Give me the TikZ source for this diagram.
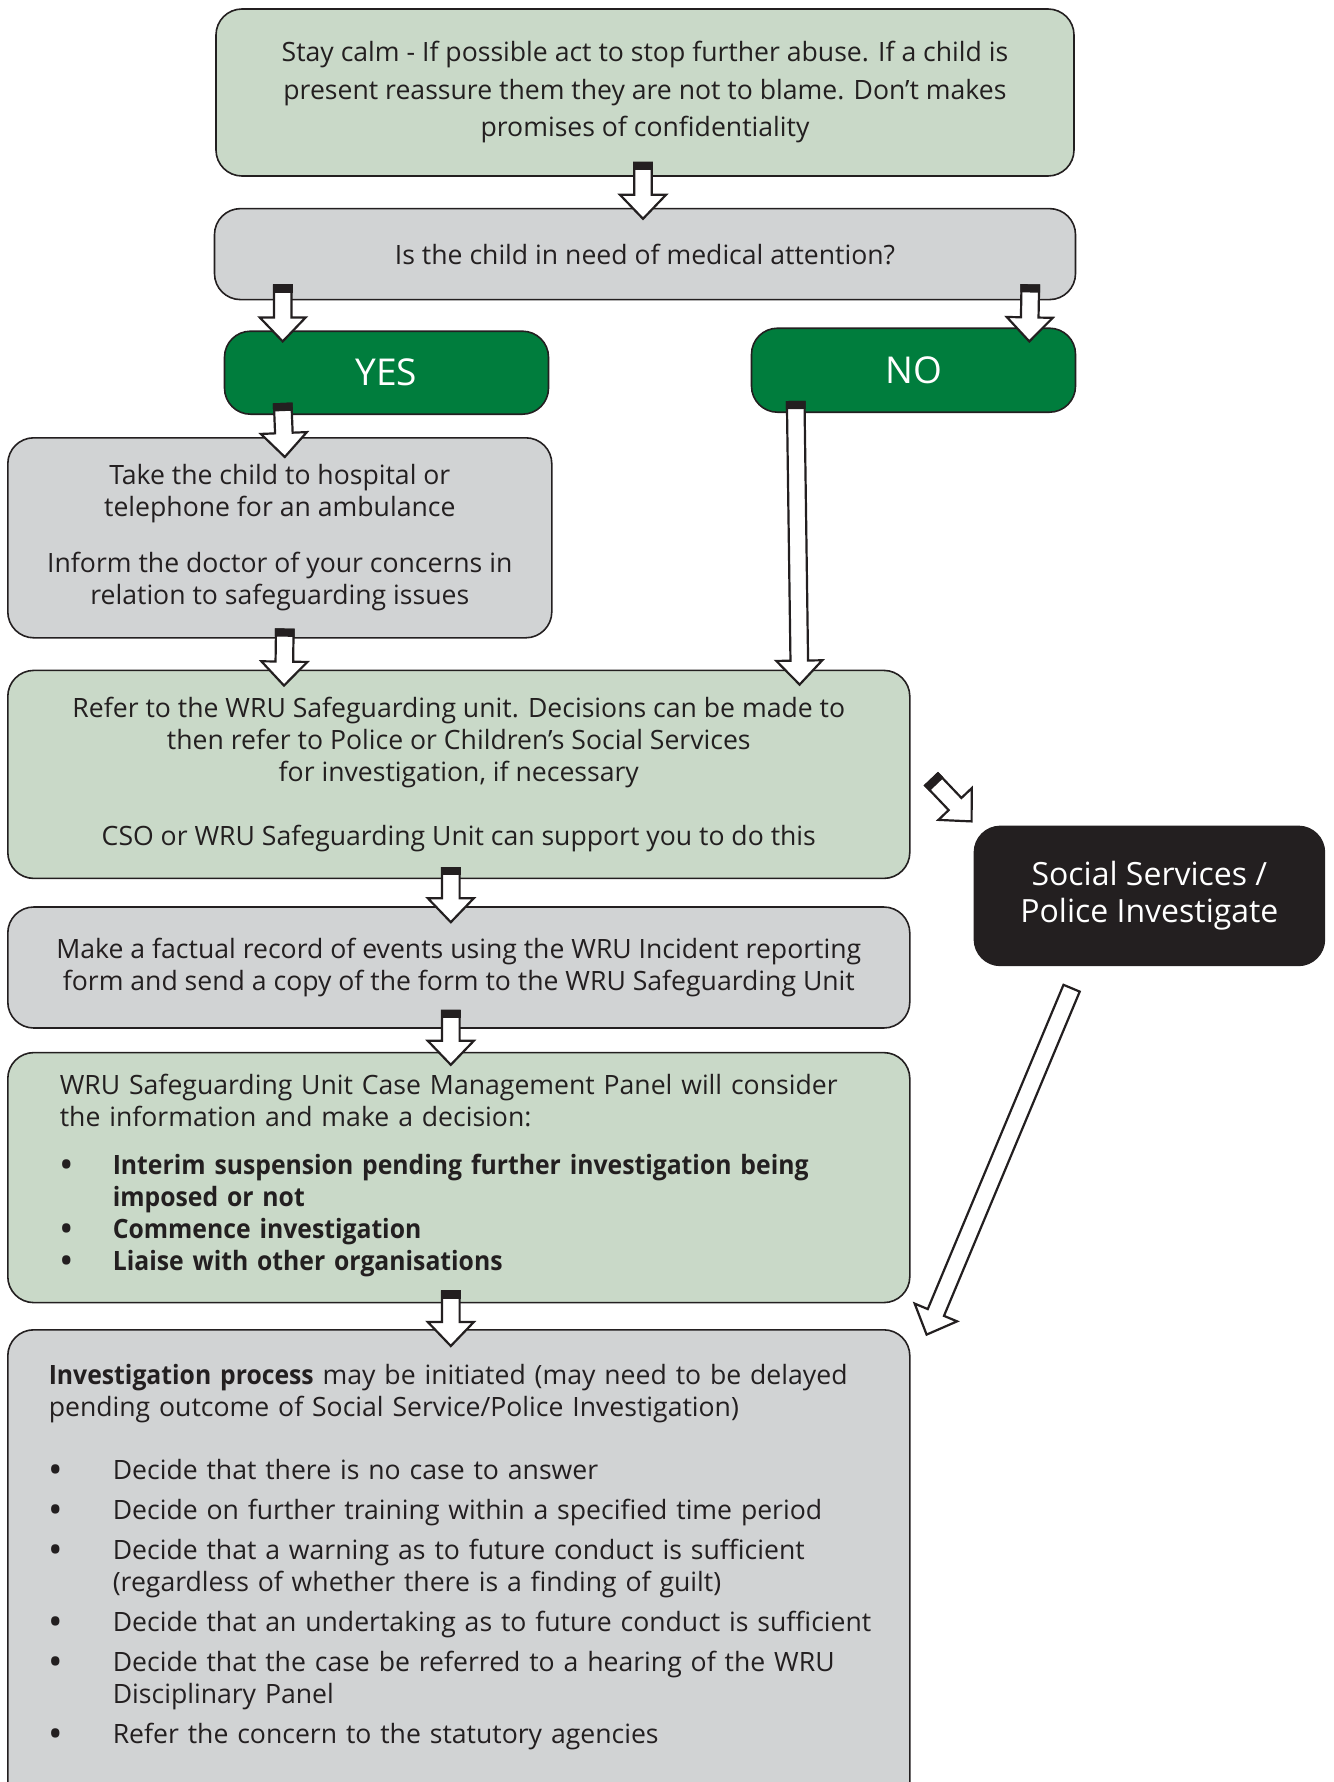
\documentclass[tikz,border=0pt]{standalone}
\usepackage{fontspec}
\setmainfont[BoldFeatures={FakeStretch=0.93}]{Open Sans}
\usetikzlibrary{positioning, calc}
\definecolor{ink}{RGB}{35,31,32}
\definecolor{sage}{RGB}{201,217,200}
\definecolor{cloud}{RGB}{209,211,212}
\definecolor{pitch}{RGB}{0,125,61}
\newcommand{\dotitem}[1][32pt]{\makebox[#1][l]{\raisebox{-2pt}{\smash{\scalebox{1.45}{\textbullet}}}}}
\tikzstyle{box}=[draw=ink, line width=0.8pt, rounded corners=13pt, text=ink, inner sep=0pt, align=center]
\tikzstyle{greenbox}=[box, fill=sage]
\tikzstyle{greybox}=[box, fill=cloud]
\tikzstyle{answer}=[box, fill=pitch, text=white, minimum width=162pt, font=\fontsize{18.5}{22}\selectfont]
\tikzstyle{every node}=[font=\fontsize{13.3}{16}\selectfont]
\tikzstyle{hollow}=[draw=ink, fill=white, line width=1.1pt, line join=miter,
  to path={let \p1=(\tikztostart), \p2=(\tikztotarget), \p3=($(\p2)!12pt!(\p1)$) in
    ($(\p1)!4.4pt!90:(\p2)$) -- ($(\p3)!4.4pt!90:(\p2)$) -- ($(\p3)!11.5pt!90:(\p2)$) -- (\p2)
    -- ($(\p3)!11.5pt!-90:(\p2)$) -- ($(\p3)!4.4pt!-90:(\p2)$) -- ($(\p1)!4.4pt!-90:(\p2)$) -- cycle}]
\tikzstyle{tail}=[draw=ink, fill=ink, line width=1.1pt,
  to path={let \p1=(\tikztostart), \p2=(\tikztotarget), \p3=($(\p1)!3pt!(\p2)$) in
    ($(\p1)!4.4pt!90:(\p2)$) -- ($(\p3)!4.4pt!90:(\p2)$) -- ($(\p3)!4.4pt!-90:(\p2)$)
    -- ($(\p1)!4.4pt!-90:(\p2)$) -- cycle}]

\begin{document}
\begin{tikzpicture}[node distance=15pt]
    \useasboundingbox (0,0) rectangle (666.5pt,-891pt);

    \node[greenbox, minimum width=429pt, minimum height=83.5pt, font=\fontsize{13.3}{18.75}\selectfont] (calm) at (322.5pt,-46.25pt)
        {Stay calm - If possible act to stop further abuse. If a child is\\
         present reassure them they are not to blame. Don’t makes\\
         promises of confidentiality};
    \node[greybox, minimum width=430.5pt, minimum height=45.5pt, below=15.5pt of calm] (medical)
        {Is the child in need of medical attention?};
    \node[answer, minimum height=41.5pt, below=15pt of medical.south west, anchor=north west, xshift=5pt] (yes) {YES};
    \node[answer, minimum height=42pt, below=13.5pt of medical.south east, anchor=north east] (no) {NO};

    \node[greybox, minimum width=272pt, minimum height=100pt, anchor=north west] (hosp) at (3.5pt,-218.5pt)
        {Take the child to hospital or\\
         telephone for an ambulance\\[12pt]
         Inform the doctor of your concerns in\\
         relation to safeguarding issues};
    \node[greenbox, minimum width=451pt, minimum height=104pt, below=15.5pt of hosp.south west, anchor=north west] (refer)
        {Refer to the WRU Safeguarding unit. Decisions can be made to\\
         then refer to Police or Children’s Social Services\\
         for investigation, if necessary\\[16pt]
         CSO or WRU Safeguarding Unit can support you to do this};
    \node[greybox, minimum width=451pt, minimum height=60.5pt, below=13.5pt of refer.south west, anchor=north west] (record)
        {Make a factual record of events using the WRU Incident reporting\\
         form and send a copy of the form to the WRU Safeguarding Unit};
    \node[greenbox, text width=399pt, inner xsep=26pt, minimum height=125pt, align=left,
          below=11.5pt of record.south west, anchor=north west] (panel)
        {WRU Safeguarding Unit Case Management Panel will consider\\
         the information and make a decision:\\[8pt]
         \dotitem[26.5pt]\textbf{Interim suspension pending further investigation being}\\
         \hspace*{26.5pt}\textbf{imposed or not}\\
         \dotitem[26.5pt]\textbf{Commence investigation}\\
         \dotitem[26.5pt]\textbf{Liaise with other organisations}\par\vspace*{2pt}};
    \node[greybox, text width=410pt, inner xsep=20.5pt, inner ysep=17pt, align=left,
          below=12.8pt of panel.south west, anchor=north west] (process)
        {\textbf{Investigation process} may be initiated (may need to be delayed\\
         pending outcome of Social Service/Police Investigation)\\[15.5pt]
         \dotitem Decide that there is no case to answer\\[4pt]
         \dotitem Decide on further training within a specified time period\\[4pt]
         \dotitem Decide that a warning as to future conduct is sufficient\\
         \hspace*{32pt}(regardless of whether there is a finding of guilt)\\[4pt]
         \dotitem\mbox{Decide that an undertaking as to future conduct is sufficient}\\[4pt]
         \dotitem Decide that the case be referred to a hearing of the WRU\\
         \hspace*{32pt}Disciplinary Panel\\[4pt]
         \dotitem Refer the concern to the statutory agencies\\[60pt]\mbox{}};

    \node[box, fill=ink, text=white, minimum width=175pt, minimum height=69.5pt, font=\fontsize{16}{18.75}\selectfont,
          below right=78pt and 31.5pt of refer.north east] (police)
        {Social Services /\\Police Investigate};

    % block arrows
    \path ([shift={(-1pt,7pt)}]calm.south) edge[hollow] ([shift={(-1pt,-5.5pt)}]medical.north)
                                            edge[tail] ([shift={(-1pt,-5.5pt)}]medical.north);
    \path ([shift={(34.5pt,7.5pt)}]medical.south west) edge[hollow] ([shift={(29.5pt,-5.5pt)}]yes.north west)
                                                        edge[tail] ([shift={(29.5pt,-5.5pt)}]yes.north west);
    \path ([shift={(-23pt,7.5pt)}]medical.south east) edge[hollow] ([shift={(-23.5pt,-7pt)}]no.north east)
                                                       edge[tail] ([shift={(-23.5pt,-7pt)}]no.north east);
    \path ([shift={(29.5pt,5.5pt)}]yes.south west) edge[hollow] ([shift={(2.5pt,-10pt)}]hosp.north)
                                                    edge[tail] ([shift={(2.5pt,-10pt)}]hosp.north);
    \path ([shift={(22.5pt,5.5pt)}]no.south west) edge[hollow] ([shift={(-55.5pt,-7.5pt)}]refer.north east)
                                                   edge[tail] ([shift={(-55.5pt,-7.5pt)}]refer.north east);
    \path ([shift={(2.5pt,4.5pt)}]hosp.south) edge[hollow] ([shift={(138.5pt,-8pt)}]refer.north west)
                                               edge[tail] ([shift={(138.5pt,-8pt)}]refer.north west);
    \path ([shift={(-4pt,5.5pt)}]refer.south) edge[hollow] ([shift={(-4pt,-8pt)}]record.north)
                                               edge[tail] ([shift={(-4pt,-8pt)}]record.north);
    \path ([shift={(-4pt,9pt)}]record.south) edge[hollow] ([shift={(-4pt,-6.5pt)}]panel.north)
                                              edge[tail] ([shift={(-4pt,-6.5pt)}]panel.north);
    \path ([shift={(-4pt,6pt)}]panel.south) edge[hollow] ([shift={(-4pt,-8.5pt)}]process.north)
                                             edge[tail] ([shift={(-4pt,-8.5pt)}]process.north);
    \path ([shift={(10.5pt,-54.9pt)}]refer.north east) edge[hollow] ([shift={(-1pt,2.1pt)}]police.north west)
                                                        edge[tail] ([shift={(-1pt,2.1pt)}]police.north west);
    \path ([shift={(49pt,-11pt)}]police.south west) edge[hollow] ([shift={(8pt,-2.8pt)}]process.north east);
\end{tikzpicture}
\end{document}
